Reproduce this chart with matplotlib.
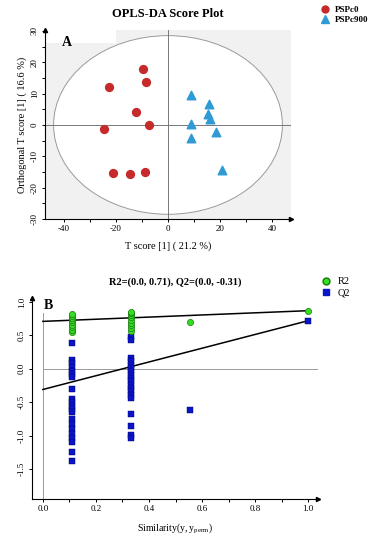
import matplotlib.pyplot as plt
from matplotlib.patches import Ellipse, Rectangle
from matplotlib.lines import Line2D
import numpy as np

plt.rcParams["font.family"] = ["Liberation Serif", "DejaVu Serif"]
plt.rcParams["mathtext.fontset"] = "custom"
plt.rcParams["mathtext.rm"] = "Liberation Serif"
plt.rcParams["axes.unicode_minus"] = False

# --- panel A: OPLS-DA scores
pspc0_t = [-9.6, -8.3, -22.5, -12.2, -24.8, -7.3, -21.0, -14.7, -9.0]
pspc0_o = [17.7, 13.6, 12.2, 4.0, -1.2, -0.1, -15.4, -15.6, -15.0]
pspc900_t = [9.0, 15.7, 15.4, 16.0, 8.7, 18.5, 9.0, 20.9]
pspc900_o = [9.6, 6.6, 3.4, 2.0, 0.2, -2.4, -4.1, -14.3]
ellipse_w, ellipse_h = 88, 57

# --- panel B: permutation test
r2_x = [0.111] * 9 + [0.333] * 9 + [0.556, 1.0]
r2_y = [0.55, 0.58, 0.62, 0.66, 0.70, 0.73, 0.76, 0.79, 0.82,
        0.57, 0.61, 0.65, 0.69, 0.73, 0.77, 0.80, 0.83, 0.85,
        0.70, 0.87]
q2_a = [0.38, 0.13, 0.08, 0.03, -0.03, -0.08, -0.12, -0.30, -0.45, -0.50, -0.55,
        -0.60, -0.65, -0.75, -0.82, -0.90, -0.97, -1.03, -1.10, -1.24, -1.38]
q2_b = [0.47, 0.43, 0.16, 0.11, 0.06, 0.01, -0.04, -0.09, -0.14, -0.19, -0.24,
        -0.29, -0.34, -0.39, -0.44, -0.68, -0.85, -0.99, -1.03]
q2_x = [0.111] * len(q2_a) + [0.333] * len(q2_b) + [0.556, 1.0]
q2_y = q2_a + q2_b + [-0.62, 0.72]
r2_fit = (0.71, 0.87)
q2_fit = (-0.31, 0.72)

red = "#c62a2a"
blue_tri = "#2f9ad4"
green = "#33dd22"
navy = "#0a14c8"
grid_gray = "#9a9a9a"


def arrow_axes(ax):
    for s in ["top", "right"]:
        ax.spines[s].set_visible(False)
    ax.spines["left"].set_linewidth(0.8)
    ax.spines["bottom"].set_linewidth(0.8)
    ax.plot(1, 0, ">k", transform=ax.transAxes, clip_on=False, ms=3)
    ax.plot(0, 1, "^k", transform=ax.transAxes, clip_on=False, ms=3)
    ax.tick_params(which="both", direction="out", length=2.5, width=0.7,
                   labelsize=6.5, pad=2)
    for lab in ax.get_yticklabels():
        lab.set_rotation(90)
        lab.set_va("center")


fig = plt.figure(figsize=(3.73, 5.5), dpi=100)

# panel A
ax1 = fig.add_axes([45 / 373, 1 - 219 / 550, 246 / 373, 189 / 550])
ax1.set_facecolor("#f1f1f1")
ax1.set_xlim(-47.3, 47.3)
ax1.set_ylim(-30, 30.3)
ax1.add_patch(Ellipse((0, 0), ellipse_w, ellipse_h, facecolor="white",
                      edgecolor=grid_gray, lw=0.7, zorder=1))
ax1.add_patch(Rectangle((0, 0.93), 0.29, 0.07, transform=ax1.transAxes,
                        facecolor="white", edgecolor="none", zorder=1))
ax1.axhline(0, color="#777777", lw=0.7, zorder=2)
ax1.axvline(0, color="#777777", lw=0.7, zorder=2)
ax1.scatter(pspc0_t, pspc0_o, s=32, c=red, marker="o", zorder=3)
ax1.scatter(pspc900_t, pspc900_o, s=38, c=blue_tri, marker="^", zorder=3)
ax1.set_xticks([-40, -20, 0, 20, 40])
ax1.set_xticks([-30, -10, 10, 30], minor=True)
ax1.set_yticks([-30, -20, -10, 0, 10, 20, 30])
ax1.set_yticks(np.arange(-25, 30, 10), minor=True)
arrow_axes(ax1)
ax1.set_xlabel("T score [1] ( 21.2 %)", fontsize=7.5, labelpad=6)
ax1.set_ylabel("Orthogonal T score [1] ( 16.6 %)", fontsize=7.5, labelpad=3)
ax1.text(0.07, 0.97, "A", transform=ax1.transAxes, fontsize=10,
         fontweight="bold", va="top", zorder=4)
fig.text(168 / 373, 1 - 14 / 550, "OPLS-DA Score Plot", ha="center",
         va="center", fontsize=9, fontweight="bold")

h1 = [Line2D([], [], ls="", marker="o", color=red, ms=5),
      Line2D([], [], ls="", marker="^", color=blue_tri, ms=5.5)]
fig.legend(h1, ["PSPc0", "PSPc900"], loc="upper left",
           bbox_to_anchor=(316 / 373, 1 - 1 / 550), frameon=False,
           prop={"size": 6.5, "weight": "bold"}, handlelength=1,
           handletextpad=0.6, labelspacing=0.25, borderpad=0)

# panel B
ax2 = fig.add_axes([32 / 373, 1 - 499 / 550, 286 / 373, 201 / 550])
ax2.set_xlim(-0.041, 1.037)
ax2.set_ylim(-1.95, 1.06)
ax2.axhline(0, xmin=0.038, color=grid_gray, lw=0.7, zorder=1)
ax2.axvline(0, color=grid_gray, lw=0.7, zorder=1)
ax2.plot([0, 1], r2_fit, color="black", lw=1.1, zorder=2)
ax2.plot([0, 1], q2_fit, color="black", lw=1.1, zorder=2)
ax2.scatter(q2_x, q2_y, s=20, c=navy, marker="s", edgecolors="#000060",
            linewidths=0.3, zorder=3)
ax2.scatter(r2_x, r2_y, s=20, c=green, marker="o", edgecolors="#1a7a10",
            linewidths=0.5, zorder=4)
ax2.set_xticks([0.0, 0.2, 0.4, 0.6, 0.8, 1.0])
ax2.set_xticks([0.1, 0.3, 0.5, 0.7, 0.9], minor=True)
ax2.set_yticks([-1.5, -1.0, -0.5, 0.0, 0.5, 1.0])
arrow_axes(ax2)
ax2.set_xlabel("Similarity(y, y$_\\mathregular{perm}$)", fontsize=7, labelpad=6)
ax2.text(0.04, 0.995, "B", transform=ax2.transAxes, fontsize=10,
         fontweight="bold", va="top", zorder=5,
         bbox=dict(facecolor="white", edgecolor="none", pad=0.5))
fig.text(175 / 373, 1 - 282 / 550, "R2=(0.0, 0.71), Q2=(0.0, -0.31)",
         ha="center", va="center", fontsize=7.5, fontweight="bold")

h2 = [Line2D([], [], ls="", marker="o", color=green, mec="#1a7a10", ms=5),
      Line2D([], [], ls="", marker="s", color=navy, ms=4.5)]
fig.legend(h2, ["R2", "Q2"], loc="upper left",
           bbox_to_anchor=(316 / 373, 1 - 272 / 550), frameon=False,
           prop={"size": 7.5}, handlelength=1, handletextpad=0.6,
           labelspacing=0.2, borderpad=0)

fig.savefig("out.png", dpi=100)
